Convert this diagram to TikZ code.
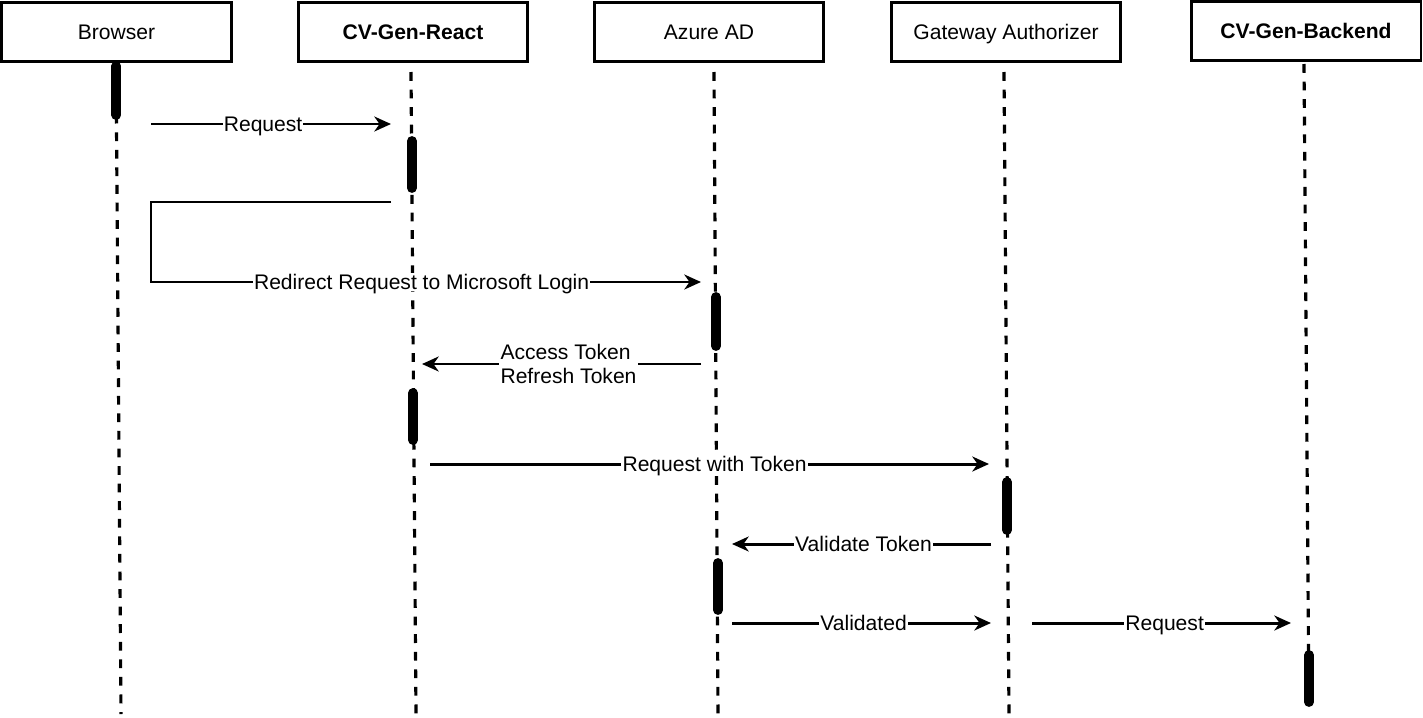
\documentclass[tikz,border=0pt]{standalone}
\usepackage{fontspec}
\setmainfont{Liberation Sans}
\usetikzlibrary{arrows.meta}

\begin{document}
\begin{tikzpicture}[x=0.02cm, y=-0.02cm,
    actor/.style={draw, line width=1.7pt, minimum width=4.6cm, minimum height=1.18cm, inner sep=0pt, text height=8.6pt, text depth=0.4pt, font=\fontsize{12}{14}\selectfont},
    lifeline/.style={line width=1.8pt, dash pattern=on 5pt off 5pt},
    actbar/.style={line width=5.6pt, line cap=round},
    msg/.style={line width=1.7pt, -{Stealth[length=9.5pt, width=8.5pt, inset=3pt]}},
    lbl/.style={fill=white, inner sep=0.6pt, text height=8.6pt, text depth=0.4pt, font=\fontsize{12}{14}\selectfont}]
    \useasboundingbox (0,0) rectangle (1423,717);

    % participants
    \node[actor] (browser) at (116.5,32) {Browser};
    \node[actor] (react) at (413,32) {\textbf{CV-Gen-React}};
    \node[actor] (azure) at (709,32) {Azure AD};
    \node[actor] (gateway) at (1006,32) {Gateway Authorizer};
    \node[actor] (backend) at (1306,31) {\textbf{CV-Gen-Backend}};

    % lifelines
    \draw[lifeline] (116,62) -- (121,714);
    \draw[lifeline] (411,72) -- (416,714);
    \draw[lifeline] (714,72) -- (718,714);
    \draw[lifeline] (1004,72) -- (1009,714);
    \draw[lifeline] (1304,64) -- (1309,714);

    % activation bars
    \draw[actbar] (116.3,66) -- (116.3,115);
    \draw[actbar] (411.8,141) -- (411.8,188);
    \draw[actbar] (716,297) -- (716,346);
    \draw[actbar] (413,393) -- (413,440);
    \draw[actbar] (1007,482) -- (1007,530);
    \draw[actbar] (718,563) -- (718,610);
    \draw[actbar] (1309,655) -- (1309,702);

    % messages
    \coordinate (m1s) at (151,124);
    \coordinate (m1e) at (391,124);
    \draw[msg] (m1s) -- node[lbl, pos=0.467] (m1) {Request} (m1e);

    \coordinate (m2s) at (391,202);
    \coordinate (m2c) at (151,282);
    \coordinate (m2e) at (701,282);
    \draw[msg] (m2s) -| (m2c) -- node[lbl, pos=0.492] (m2) {Redirect Request to Microsoft Login} (m2e);

    \coordinate (m3s) at (701,364);
    \coordinate (m3e) at (422,364);
    \draw[msg] (m3s) -- (m3e);
    \node[fill=white, inner sep=1pt, align=left, font=\fontsize{12}{14}\selectfont] (m3) at (568.5,364) {Access Token\\Refresh Token};

    \coordinate (m4s) at (430,464);
    \coordinate (m4e) at (989,464);
    \draw[msg] (m4s) -- node[lbl, pos=0.509] (m4) {Request with Token} (m4e);

    \coordinate (m5s) at (991,544);
    \coordinate (m5e) at (732,544);
    \draw[msg] (m5s) -- node[lbl, pos=0.492] (m5) {Validate Token} (m5e);

    \coordinate (m6s) at (732,623);
    \coordinate (m6e) at (991,623);
    \draw[msg] (m6s) -- node[lbl, pos=0.508] (m6) {Validated} (m6e);

    \coordinate (m7s) at (1032,623);
    \coordinate (m7e) at (1291,623);
    \draw[msg] (m7s) -- node[lbl, pos=0.512] (m7) {Request} (m7e);
\end{tikzpicture}
\end{document}
